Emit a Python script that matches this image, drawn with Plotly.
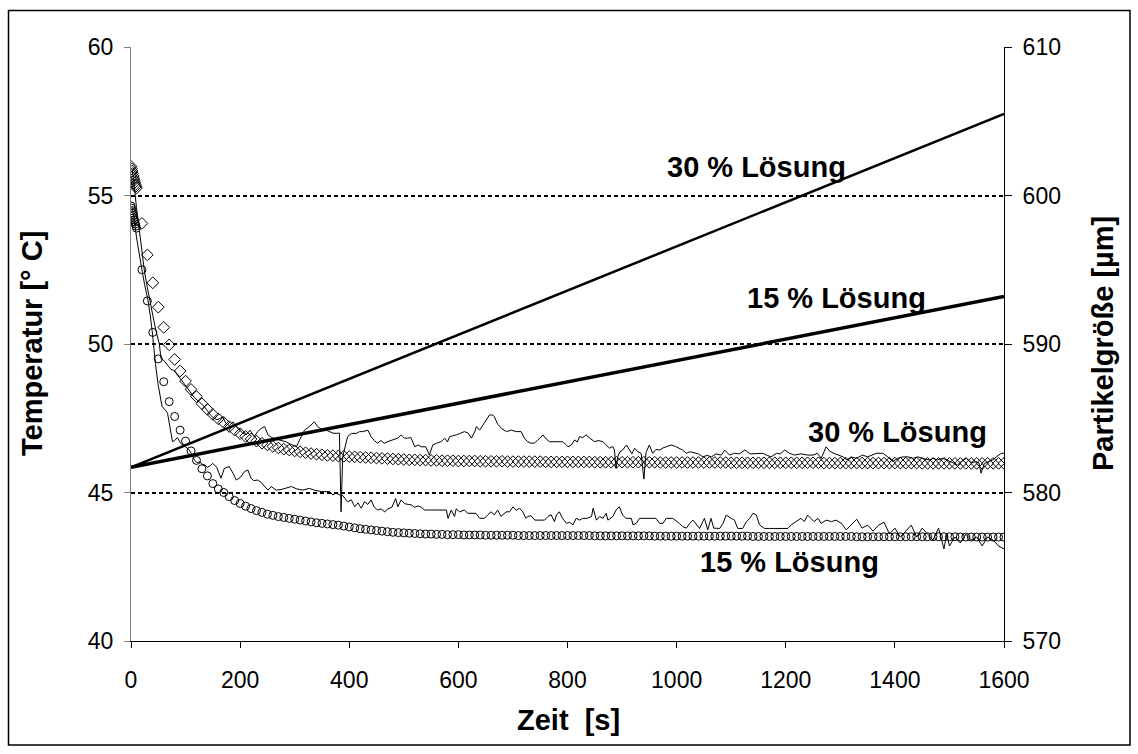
import plotly.graph_objects as go

# ---------------- data ----------------
# model curves: dense points for the first 10 s, then every 10 s
sim_t = list(range(0, 11)) + list(range(20, 1601, 10))

sim_temp_30 = [
    55.98, 55.90, 55.82, 55.74, 55.66, 55.58, 55.51, 55.44, 55.37, 55.31, 55.25,
    54.06, 53.00, 52.06, 51.24, 50.56, 49.97, 49.48, 49.09, 48.75, 48.47,
    48.23, 47.99, 47.80, 47.63, 47.48, 47.36, 47.22, 47.10, 46.98, 46.89,
    46.80, 46.73, 46.66, 46.60, 46.55, 46.50, 46.46, 46.43, 46.40, 46.37,
    46.34, 46.31, 46.29, 46.27, 46.25, 46.24, 46.23, 46.22, 46.21, 46.20,
    46.19, 46.18, 46.17, 46.16, 46.15, 46.14, 46.13, 46.12, 46.11, 46.10,
    46.10, 46.09, 46.09, 46.08, 46.08, 46.07, 46.07, 46.07, 46.06, 46.06,
    46.06, 46.06, 46.05, 46.05, 46.05, 46.05, 46.05, 46.04, 46.04, 46.04,
    46.04, 46.04, 46.04, 46.04, 46.03, 46.03, 46.03, 46.03, 46.03, 46.03,
    46.03, 46.03, 46.03, 46.02, 46.02, 46.02, 46.02, 46.02, 46.02, 46.02,
    46.02, 46.02, 46.02, 46.02, 46.02, 46.01, 46.01, 46.01, 46.01, 46.01,
    46.01, 46.01, 46.01, 46.01, 46.01, 46.01, 46.01, 46.01, 46.00, 46.00,
    46.00, 46.00, 46.00, 46.00, 46.00, 46.00, 46.00, 46.00, 46.00, 46.00,
    46.00, 46.00, 46.00, 46.00, 46.00, 45.99, 45.99, 45.99, 45.99, 45.99,
    45.99, 45.99, 45.99, 45.99, 45.99, 45.99, 45.99, 45.99, 45.99, 45.99,
    45.99, 45.99, 45.99, 45.98, 45.98, 45.98, 45.98, 45.98, 45.98, 45.98,
    45.98, 45.98, 45.98, 45.98, 45.98, 45.98, 45.98, 45.98, 45.98,
]

sim_temp_15 = [
    54.65, 54.57, 54.49, 54.41, 54.33, 54.25, 54.18, 54.11, 54.04, 53.97, 53.90,
    52.50, 51.45, 50.39, 49.50, 48.73, 48.06, 47.56, 47.10, 46.73, 46.40,
    46.08, 45.80, 45.56, 45.30, 45.12, 45.00, 44.86, 44.73, 44.63, 44.54,
    44.46, 44.39, 44.33, 44.27, 44.23, 44.19, 44.16, 44.13, 44.10, 44.07,
    44.04, 44.01, 43.98, 43.96, 43.94, 43.92, 43.90, 43.87, 43.84, 43.81,
    43.78, 43.76, 43.74, 43.72, 43.70, 43.68, 43.66, 43.65, 43.64, 43.63,
    43.62, 43.61, 43.60, 43.60, 43.59, 43.59, 43.58, 43.58, 43.58, 43.57,
    43.57, 43.57, 43.57, 43.56, 43.56, 43.56, 43.56, 43.56, 43.56, 43.55,
    43.55, 43.55, 43.55, 43.55, 43.55, 43.55, 43.55, 43.55, 43.55, 43.55,
    43.55, 43.55, 43.55, 43.54, 43.54, 43.54, 43.54, 43.54, 43.54, 43.54,
    43.54, 43.54, 43.54, 43.54, 43.53, 43.53, 43.53, 43.53, 43.53, 43.53,
    43.53, 43.53, 43.53, 43.53, 43.53, 43.53, 43.53, 43.53, 43.53, 43.53,
    43.53, 43.53, 43.52, 43.52, 43.52, 43.52, 43.52, 43.52, 43.52, 43.52,
    43.52, 43.52, 43.52, 43.52, 43.52, 43.52, 43.52, 43.52, 43.52, 43.52,
    43.52, 43.51, 43.51, 43.51, 43.51, 43.51, 43.51, 43.51, 43.51, 43.51,
    43.51, 43.51, 43.51, 43.51, 43.51, 43.51, 43.51, 43.51, 43.51, 43.51,
    43.50, 43.50, 43.50, 43.50, 43.50, 43.50, 43.50, 43.50, 43.50,
]

# measured temperature, 30 % solution
meas_t_30 = [
    2, 5, 10, 15, 20, 25, 30, 35, 39, 45,
    52, 55, 60, 67, 73, 80, 85, 92, 100, 108,
    116, 125, 134, 140, 146, 152, 158, 164, 168, 174,
    180, 187, 193, 199, 205, 211, 218, 226, 232, 238,
    245, 251, 258, 265, 272, 278, 284, 290, 296, 303,
    309, 318, 327, 336, 342, 351, 358, 364, 370, 376,
    382, 385, 388, 391, 397, 404, 413, 419, 425, 434,
    440, 446, 452, 458, 464, 470, 476, 483, 489, 495,
    501, 507, 513, 520, 526, 532, 540, 547, 553, 560,
    568, 575, 580, 584, 590, 596, 602, 611, 618, 624,
    630, 633, 639, 645, 651, 657, 663, 666, 672, 679,
    688, 697, 706, 715, 721, 727, 733, 739, 745, 755,
    761, 767, 776, 785, 791, 798, 801, 807, 813, 818,
    822, 828, 834, 843, 850, 856, 865, 871, 877, 883,
    886, 889, 892, 896, 901, 908, 913, 918, 923, 929,
    935, 940, 944, 950, 956, 962, 969, 975, 981, 990,
    998, 1005, 1011, 1018, 1024, 1030, 1040, 1048, 1056, 1064,
    1072, 1082, 1088, 1097, 1106, 1115, 1125, 1135, 1146, 1158,
    1166, 1173, 1183, 1190, 1198, 1207, 1216, 1228, 1240, 1250,
    1258, 1265, 1274, 1280, 1288, 1296, 1305, 1312, 1320, 1329,
    1335, 1341, 1350, 1358, 1366, 1378, 1387, 1396, 1405, 1415,
    1424, 1433, 1442, 1451, 1458, 1464, 1470, 1478, 1488, 1494,
    1500, 1508, 1515, 1522, 1531, 1540, 1549, 1554, 1558, 1564,
    1572, 1580, 1586, 1595, 1600,
]
meas_temp_30 = [
    55.9, 55.5, 54.6, 53.8, 53.0, 52.4, 51.9, 51.4, 51.0, 50.5,
    50.0, 49.5, 49.45, 49.3, 49.15, 49.1, 48.95, 48.8, 48.6, 48.4,
    48.2, 48.05, 47.9, 47.75, 47.6, 47.5, 47.45, 47.5, 47.55, 47.33,
    47.25, 47.38, 47.2, 47.1, 47.0, 46.94, 47.1, 46.88, 47.05, 47.15,
    47.22, 46.94, 46.85, 46.8, 46.77, 46.75, 46.71, 46.65, 46.6, 46.54,
    46.77, 47.1, 47.22, 47.38, 47.22, 47.1, 47.1, 47.05, 47.0, 46.99,
    47.0, 44.35, 46.2, 46.43, 46.88, 46.99, 46.99, 47.05, 47.05, 47.1,
    46.88, 46.75, 46.66, 46.75, 46.66, 46.71, 46.75, 46.8, 46.83, 46.94,
    46.83, 46.83, 46.85, 46.54, 46.6, 46.54, 46.54, 46.26, 46.6, 46.66,
    46.71, 46.83, 46.7, 46.88, 46.9, 46.94, 46.98, 47.05, 47.0, 46.83,
    47.05, 47.22, 47.1, 47.27, 47.44, 47.61, 47.61, 47.55, 47.3, 47.16,
    47.05, 47.1, 47.05, 47.05, 46.83, 46.71, 46.66, 46.66, 46.75, 46.94,
    46.8, 46.71, 46.71, 46.71, 46.71, 46.6, 46.54, 46.6, 46.77, 46.7,
    46.88, 46.85, 46.94, 46.8, 46.71, 46.75, 46.71, 46.6, 46.49, 46.55,
    46.43, 45.81, 46.2, 46.37, 46.43, 46.6, 46.45, 46.3, 46.49, 46.37,
    46.32, 45.45, 46.35, 46.6, 46.32, 46.45, 46.43, 46.5, 46.54, 46.6,
    46.55, 46.49, 46.43, 46.32, 46.37, 46.35, 46.3, 46.2, 46.25, 46.2,
    46.3, 46.26, 46.43, 46.26, 46.32, 46.3, 46.43, 46.3, 46.32, 46.32,
    46.25, 46.2, 46.32, 46.3, 46.43, 46.32, 46.26, 46.3, 46.26, 46.26,
    46.32, 46.15, 46.54, 46.4, 46.32, 46.26, 46.2, 46.1, 46.2, 46.15,
    46.2, 46.26, 46.2, 46.25, 46.32, 46.32, 46.2, 46.04, 46.15, 46.2,
    46.2, 46.15, 46.2, 46.15, 46.12, 46.09, 46.15, 46.1, 46.15, 46.1,
    46.04, 46.0, 45.93, 46.05, 46.15, 46.0, 46.04, 46.0, 45.65, 45.98,
    46.05, 46.1, 46.2, 46.32, 46.32,
]

# measured temperature, 15 % solution
meas_t_15 = [
    2, 5, 10, 15, 20, 25, 31, 35, 39, 45,
    50, 57, 62, 67, 72, 76, 80, 85, 91, 96,
    100, 106, 111, 116, 121, 126, 130, 135, 140, 145,
    150, 157, 165, 171, 176, 180, 187, 193, 200, 208,
    214, 220, 225, 232, 238, 245, 251, 257, 266, 275,
    284, 294, 304, 315, 327, 336, 349, 364, 370, 376,
    382, 388, 397, 404, 410, 416, 422, 428, 434, 440,
    446, 452, 458, 465, 471, 478, 485, 489, 495, 502,
    508, 514, 520, 526, 532, 538, 545, 552, 559, 565,
    572, 578, 581, 587, 593, 596, 602, 611, 617, 626,
    632, 639, 648, 654, 660, 666, 672, 678, 688, 694,
    700, 706, 712, 718, 724, 727, 733, 740, 748, 758,
    764, 770, 776, 780, 785, 791, 798, 804, 810, 816,
    822, 828, 836, 844, 847, 853, 859, 865, 871, 874,
    883, 889, 895, 901, 907, 917, 920, 926, 932, 943,
    953, 962, 969, 975, 981, 993, 1005, 1011, 1018, 1024,
    1030, 1036, 1042, 1048, 1051, 1057, 1063, 1068, 1079, 1085,
    1091, 1100, 1106, 1112, 1121, 1128, 1134, 1140, 1146, 1152,
    1161, 1170, 1185, 1204, 1210, 1219, 1228, 1234, 1240, 1246,
    1252, 1259, 1265, 1274, 1284, 1292, 1302, 1311, 1320, 1330,
    1340, 1350, 1360, 1370, 1380, 1390, 1400, 1410, 1420, 1430,
    1440, 1450, 1460, 1470, 1480, 1490, 1495, 1500, 1510, 1520,
    1530, 1540, 1550, 1560, 1570, 1580, 1590, 1600,
]
meas_temp_15 = [
    54.6, 54.3, 53.6, 53.0, 52.5, 52.0, 51.48, 51.0, 50.41, 49.3,
    48.6, 47.89, 47.8, 47.67, 47.2, 46.71, 46.75, 46.85, 46.66, 46.6,
    46.54, 46.45, 46.3, 46.1, 46.0, 46.04, 45.95, 45.93, 45.85, 45.9,
    45.98, 45.85, 45.48, 45.81, 45.85, 45.87, 45.65, 45.42, 45.5, 45.7,
    45.76, 45.48, 45.4, 45.42, 45.35, 45.2, 45.08, 45.2, 45.08, 45.1,
    45.14, 45.2, 45.12, 45.08, 45.14, 45.08, 45.03, 45.03, 44.92, 44.98,
    44.92, 44.9, 44.69, 44.75, 44.52, 44.65, 44.47, 44.69, 44.6, 44.75,
    44.5, 44.41, 44.45, 44.35, 44.45, 44.5, 44.8, 44.52, 44.75, 44.62,
    44.6, 44.58, 44.5, 44.55, 44.5, 44.41, 44.41, 44.41, 44.41, 44.41,
    44.41, 44.41, 44.13, 44.41, 44.19, 44.45, 44.35, 44.41, 44.3, 44.3,
    44.3, 44.13, 44.13, 44.25, 44.35, 44.25, 44.41, 44.2, 44.35, 44.35,
    44.52, 44.4, 44.47, 44.35, 44.13, 44.19, 44.22, 44.07, 44.07, 44.07,
    44.19, 44.25, 44.02, 44.25, 44.35, 44.13, 43.96, 44.0, 43.91, 44.13,
    44.07, 44.13, 44.13, 44.19, 44.47, 44.07, 44.19, 44.13, 44.3, 44.07,
    44.19, 44.41, 44.52, 44.24, 44.13, 44.13, 43.91, 43.96, 44.13, 44.13,
    44.13, 44.13, 43.96, 43.96, 44.13, 44.13, 43.96, 43.85, 43.8, 43.96,
    44.07, 43.91, 43.79, 44.02, 44.13, 43.74, 44.13, 43.8, 43.79, 43.96,
    44.24, 44.13, 44.07, 43.79, 43.79, 44.02, 44.13, 44.3, 44.24, 43.91,
    43.79, 43.79, 43.79, 43.79, 43.91, 44.02, 44.13, 44.02, 44.24, 44.13,
    44.02, 44.13, 43.96, 44.07, 44.02, 44.07, 43.96, 43.74, 43.9, 44.1,
    43.8, 43.9, 43.7, 43.9, 44.0, 43.6, 43.8, 43.5, 43.7, 43.9,
    43.5, 43.8, 43.6, 43.4, 43.8, 43.1, 43.6, 43.2, 43.5, 43.3,
    43.6, 43.4, 43.5, 43.2, 43.5, 43.4, 43.2, 43.1,
]

# particle size growth (right axis)
size_t = [0, 1600]
size_30 = [581.7, 605.5]
size_15 = [581.7, 593.2]

for a, b in [(sim_t, sim_temp_30), (sim_t, sim_temp_15),
             (meas_t_30, meas_temp_30), (meas_t_15, meas_temp_15)]:
    if len(a) != len(b):
        raise ValueError(f"length mismatch {len(a)} vs {len(b)}")

# ---------------- figure ----------------
W, H = 1138, 754
L, R, T, B = 131, 134, 47, 113
PW, PH = W - L - R, H - T - B


def px(x):
    return (x - L) / PW


def py(y):
    return (H - B - y) / PH


FONT = "Liberation Sans, Arial, sans-serif"
TICK = dict(family=FONT, size=23, color="black")

fig = go.Figure()

fig.add_trace(go.Scatter(
    x=meas_t_30, y=meas_temp_30, mode="lines",
    line=dict(color="black", width=1), showlegend=False))
fig.add_trace(go.Scatter(
    x=meas_t_15, y=meas_temp_15, mode="lines",
    line=dict(color="black", width=1), showlegend=False))
fig.add_trace(go.Scatter(
    x=sim_t, y=sim_temp_30, mode="markers",
    marker=dict(symbol="diamond-open", size=9, color="black",
                line=dict(width=1, color="black")),
    showlegend=False))
fig.add_trace(go.Scatter(
    x=sim_t, y=sim_temp_15, mode="markers",
    marker=dict(symbol="circle-open", size=8, color="black",
                line=dict(width=1, color="black")),
    showlegend=False))
fig.add_trace(go.Scatter(
    x=size_t, y=size_30, mode="lines", yaxis="y2",
    line=dict(color="black", width=2.5), showlegend=False))
fig.add_trace(go.Scatter(
    x=size_t, y=size_15, mode="lines", yaxis="y2",
    line=dict(color="black", width=3.5), showlegend=False))

fig.update_layout(
    width=W, height=H,
    margin=dict(l=L, r=R, t=T, b=B, pad=0),
    paper_bgcolor="white", plot_bgcolor="white",
    font=dict(family=FONT, size=23, color="black"),
    xaxis=dict(
        range=[0, 1600], tick0=0, dtick=200, showgrid=False, zeroline=False,
        showline=True, linecolor="black", linewidth=1,
        ticks="outside", ticklen=6, tickcolor="black", tickwidth=1,
        tickfont=TICK, ticklabelstandoff=12,
    ),
    yaxis=dict(
        range=[40, 60], tick0=40, dtick=5, zeroline=False,
        showgrid=True, gridcolor="black", gridwidth=1.5, griddash="4px,3px",
        showline=True, linecolor="#808080", linewidth=1,
        ticks="outside", ticklen=6, tickcolor="#808080", tickwidth=1,
        tickfont=TICK, ticklabelstandoff=6,
    ),
    yaxis2=dict(
        range=[570, 610], tick0=570, dtick=10, overlaying="y", side="right",
        showgrid=False, zeroline=False,
        showline=True, linecolor="black", linewidth=1,
        ticks="outside", ticklen=7, tickcolor="black", tickwidth=1,
        tickfont=TICK, ticklabelstandoff=6,
    ),
)

bold = dict(family=FONT, size=29, color="black")
notes = [
    # axis titles
    dict(text="<b>Temperatur [° C]</b>", x=px(32), y=py(344), textangle=-90),
    dict(text="<b>Partikelgröße [µm]</b>", x=px(1103), y=py(344), textangle=-90),
    dict(text="<b>Zeit  [s]</b>", x=px(568), y=py(720), textangle=0),
]
for n in notes:
    fig.add_annotation(xref="paper", yref="paper", showarrow=False,
                       xanchor="center", yanchor="middle", font=bold, **n)

# series labels
for txt, x, y in [("30 % Lösung", 1146, 55.96), ("15 % Lösung", 1293, 51.55),
                  ("30 % Lösung", 1405, 47.04), ("15 % Lösung", 1207, 42.66)]:
    fig.add_annotation(xref="x", yref="y", x=x, y=y, text=f"<b>{txt}</b>",
                       showarrow=False, xanchor="center", yanchor="middle",
                       font=bold)

# outer frame
fig.add_shape(type="rect", xref="paper", yref="paper",
              x0=px(8.5), x1=px(1130), y0=py(745), y1=py(10.5),
              line=dict(color="black", width=1.5), layer="above")

fig.write_html("out.html")
